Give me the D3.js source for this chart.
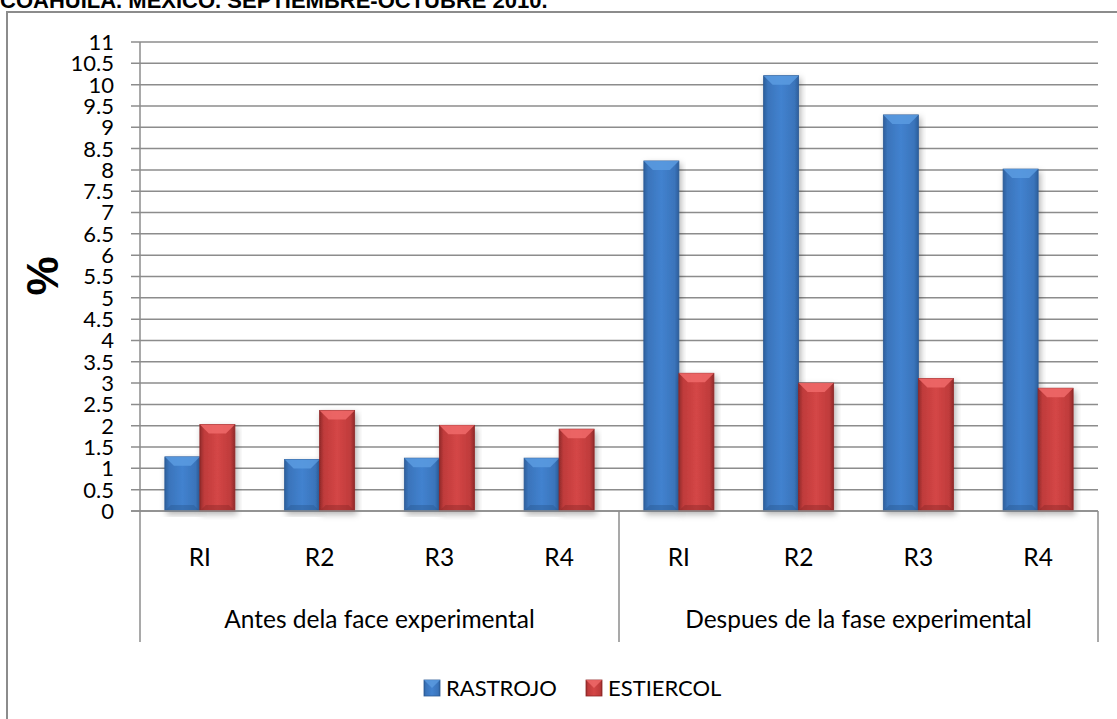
<!DOCTYPE html>
<html>
<head>
<meta charset="utf-8">
<title>Rastrojo vs Estiercol</title>
<style>
  body { margin: 0; background: #fff; font-family: Lato, 'Open Sans', sans-serif; }
  .grid line { stroke: #8c8c8c; stroke-width: 1.5px; }
  .ylab text { font-size: 22px; fill: #000; text-anchor: end; }
  .cat text { font-size: 24.5px; fill: #000; text-anchor: middle; }
  .legend text { font-size: 22px; fill: #000; text-anchor: start; }
</style>
</head>
<body>
<script src="https://d3js.org/d3.v7.min.js"></script>
<script>
// data
var grupos = ["Antes dela face experimental", "Despues de la fase experimental"];
var repeticiones = ["RI", "R2", "R3", "R4"];
var series = ["RASTROJO", "ESTIERCOL"];
var rastrojo = [1.27, 1.21, 1.24, 1.24, 8.21, 10.21, 9.29, 8.02];
var estiercol = [2.03, 2.36, 2.01, 1.92, 3.23, 3.00, 3.11, 2.88];
var yTicks = d3.range(0, 11.01, 0.5);

var width = 1117, height = 719;
var pLeft = 140, pRight = 1098, pTop = 42, pBottom = 511;

var svg = d3.select("body").append("svg")
  .attr("width", width)
  .attr("height", height);

var defs = svg.append("defs");
function barGrad(id, dark, mid, light) {
  var g = defs.append("linearGradient").attr("id", id)
    .attr("x1", "0").attr("x2", "1").attr("y1", "0").attr("y2", "0");
  g.append("stop").attr("offset", "0").attr("stop-color", dark);
  g.append("stop").attr("offset", "0.12").attr("stop-color", mid);
  g.append("stop").attr("offset", "0.5").attr("stop-color", light);
  g.append("stop").attr("offset", "0.88").attr("stop-color", mid);
  g.append("stop").attr("offset", "1").attr("stop-color", dark);
}
barGrad("gBlue", "#2d5f9c", "#3a74bb", "#4282cf");
barGrad("gRed", "#912a2a", "#bf3b3b", "#d44646");
var sh = defs.append("filter").attr("id", "shadow")
  .attr("x", "-20%").attr("y", "-5%").attr("width", "140%").attr("height", "115%");
sh.append("feDropShadow").attr("dx", 2).attr("dy", 3).attr("stdDeviation", 3)
  .attr("flood-color", "#000").attr("flood-opacity", 0.3);

// title (cut off at top)
svg.append("text")
  .attr("x", 0).attr("y", 8)
  .attr("font-family", "'Liberation Sans', Arial, sans-serif")
  .attr("font-weight", "bold")
  .attr("font-size", "22px")
  .text("COAHUILA. MEXICO. SEPTIEMBRE-OCTUBRE 2010.");

// chart frame
svg.append("rect")
  .attr("x", 7).attr("y", 12)
  .attr("width", 1300).attr("height", 800)
  .attr("fill", "none").attr("stroke", "#8c8c8c").attr("stroke-width", 2);

var y = d3.scaleLinear().domain([0, 11]).range([pBottom, pTop]);

var cats = [];
grupos.forEach(function(g, gi) {
  repeticiones.forEach(function(r) { cats.push(gi + "-" + r); });
});
var x0 = d3.scaleBand().domain(cats).range([pLeft, pRight]);
var x1 = d3.scaleBand().domain(series).range([0, x0.bandwidth()]).paddingOuter(0.71);

// grid
svg.append("g").attr("class", "grid")
  .selectAll("line").data(yTicks).enter().append("line")
  .attr("x1", pLeft - 9).attr("x2", pRight)
  .attr("y1", function(d) { return y(d); })
  .attr("y2", function(d) { return y(d); });

// y labels
svg.append("g").attr("class", "ylab")
  .selectAll("text").data(yTicks).enter().append("text")
  .attr("x", 114)
  .attr("y", function(d) { return y(d); })
  .attr("dy", "0.36em")
  .text(function(d) { return d3.format("")(d); });

svg.append("text")
  .attr("transform", "translate(58,276) rotate(-90)")
  .attr("text-anchor", "middle")
  .attr("font-family", "'Liberation Sans', Arial, sans-serif")
  .attr("font-weight", "bold")
  .attr("font-size", "44px")
  .text("%");

// bars
var rows = cats.map(function(c, i) {
  return { cat: c, vals: [
    { s: series[0], v: rastrojo[i], fill: "url(#gBlue)", top: "#5b9be0", edge: "#2b5a94" },
    { s: series[1], v: estiercol[i], fill: "url(#gRed)", top: "#f06a6a", edge: "#8f2727" }
  ]};
});

var bars = svg.append("g").selectAll("g").data(rows).enter().append("g")
  .attr("transform", function(d) { return "translate(" + x0(d.cat) + ",0)"; });

var bar = bars.selectAll("g").data(function(d) { return d.vals; }).enter().append("g");

bar.append("rect")
  .attr("x", function(d) { return x1(d.s); })
  .attr("y", function(d) { return y(d.v); })
  .attr("width", x1.bandwidth())
  .attr("height", function(d) { return pBottom - y(d.v); })
  .attr("fill", function(d) { return d.fill; })
  .attr("stroke", function(d) { return d.edge; })
  .attr("stroke-width", 0.8)
  .attr("filter", "url(#shadow)");

// top bevel
bar.append("path")
  .attr("d", function(d) {
    var xa = x1(d.s), w = x1.bandwidth(), yt = y(d.v), b = 9;
    return "M" + xa + "," + yt + "L" + (xa + w) + "," + yt +
      "L" + (xa + w - b) + "," + (yt + b) + "L" + (xa + b) + "," + (yt + b) + "Z";
  })
  .attr("fill", function(d) { return d.top; })
  .attr("opacity", 0.85);

// bottom bevel
bar.append("path")
  .attr("d", function(d) {
    var xa = x1(d.s), w = x1.bandwidth(), b = 6;
    return "M" + xa + "," + pBottom + "L" + (xa + w) + "," + pBottom +
      "L" + (xa + w - b) + "," + (pBottom - b) + "L" + (xa + b) + "," + (pBottom - b) + "Z";
  })
  .attr("fill", function(d) { return d.edge; })
  .attr("opacity", 0.45);

// category axis
svg.append("line")
  .attr("x1", pLeft - 9).attr("x2", pRight)
  .attr("y1", pBottom).attr("y2", pBottom)
  .attr("stroke", "#8c8c8c").attr("stroke-width", 1.5);
svg.append("line")
  .attr("x1", pLeft).attr("x2", pLeft)
  .attr("y1", pTop).attr("y2", pBottom)
  .attr("stroke", "#8c8c8c").attr("stroke-width", 1.5);

var sepX = [x0(cats[0]), x0(cats[4]), x0(cats[7]) + x0.bandwidth()];
svg.append("g").selectAll("line").data(sepX).enter().append("line")
  .attr("x1", function(d) { return d; }).attr("x2", function(d) { return d; })
  .attr("y1", pBottom).attr("y2", 642)
  .attr("stroke", "#8c8c8c").attr("stroke-width", 1.5);

var cat = svg.append("g").attr("class", "cat");
cat.selectAll("text.r").data(cats).enter().append("text")
  .attr("class", "r")
  .attr("x", function(d) { return x0(d) + x0.bandwidth() / 2; })
  .attr("y", 566)
  .text(function(d) { return d.split("-")[1]; });

cat.selectAll("text.g").data(grupos).enter().append("text")
  .attr("class", "g")
  .attr("x", function(d, i) { return (sepX[i] + sepX[i + 1]) / 2; })
  .attr("y", 628)
  .text(function(d) { return d; });

// legend
var legend = svg.append("g").attr("class", "legend");
var legX = [424, 586];
var legColors = [["url(#gBlue)", "#5b9be0", "#2b5a94"], ["url(#gRed)", "#f06a6a", "#8f2727"]];
series.forEach(function(s, i) {
  var gl = legend.append("g").attr("transform", "translate(" + legX[i] + ",680)");
  gl.append("rect").attr("width", 16).attr("height", 16)
    .attr("fill", legColors[i][0]).attr("stroke", legColors[i][2]).attr("stroke-width", 0.8);
  gl.append("path").attr("d", "M0,0L16,0L8,8Z").attr("fill", legColors[i][1]).attr("opacity", 0.8);
  gl.append("text").attr("x", 22).attr("y", 16).text(s);
});
</script>
</body>
</html>
